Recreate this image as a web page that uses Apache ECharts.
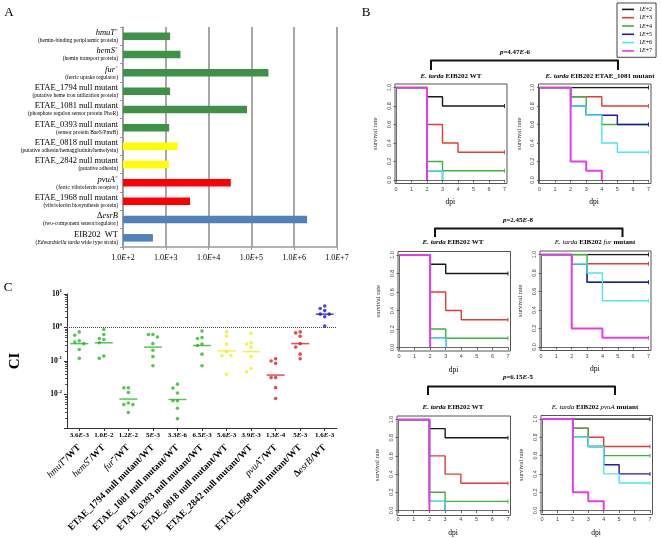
<!DOCTYPE html>
<html>
<head>
<meta charset="utf-8">
<script src="https://cdn.jsdelivr.net/npm/echarts@6/dist/echarts.min.js"></script>
<style>
html, body { margin: 0; padding: 0; background: #fff; }
#chart { width: 661px; height: 538px; }
</style>
</head>
<body>
<div id="chart"></div>
<script>
// ---- panel A: LD50 of each strain (log scale) ----
const strainNames = ['*hmuT*⁻', '*hemS*⁻', '*fur*⁻', 'ETAE_1794 null mutant', 'ETAE_1081 null mutant',
  'ETAE_0393 null mutant', 'ETAE_0818 null mutant', 'ETAE_2842 null mutant', '*pvuA*⁻',
  'ETAE_1968 null mutant', 'Δ*esrB*', 'EIB202  WT'];
const strainNotes = ['(hemin-binding periplasmic protein)', '(hemin transport protein)', '(ferric uptake regulator)',
  '(putative heme iron utilization protein)', '(phosphate regulon sensor protein PhoR)', '(sensor protein BaeS/PmrB)',
  '(putative adhesin/hemagglutinin/hemolysin)', '(putative adhesin)', '(ferric vibrioferrin receptor)',
  '(vibrioferrin biosynthesis protein)', '(two-component sensor/regulator)', '(*Edwardsiella tarda* wide type strain)'];
const ld50 = [1260, 2200, 250000, 1260, 79000, 1200, 1900, 1180, 33000, 3700, 2000000, 500];
const strainGroup = ['g', 'g', 'g', 'g', 'g', 'g', 'y', 'y', 'r', 'r', 'b', 'b'];

// ---- panel B: survival curves, one list per dose (1E+2 .. 1E+7), [dpi, survival] ----
const doseLabels = ['1E+2', '1E+3', '1E+4', '1E+5', '1E+6', '1E+7'];
const wtSurvival = [
  [[0, 1], [2, 0.9], [3, 0.8], [7, 0.8]],
  [[0, 1], [2, 0.6], [3, 0.4], [4, 0.3], [7, 0.3]],
  [[0, 1], [2, 0.2], [3, 0.1], [7, 0.1]],
  [[0, 1], [2, 0.1], [3, 0]],
  [[0, 1], [2, 0.1], [3, 0]],
  [[0, 1], [2, 0]]
];
const etae1081Survival = [
  [[0, 1], [7, 1]],
  [[0, 1], [2, 0.9], [4, 0.8], [7, 0.8]],
  [[0, 1], [2, 0.9], [3, 0.7], [4, 0.6], [7, 0.6]],
  [[0, 1], [2, 0.8], [3, 0.7], [5, 0.6], [7, 0.6]],
  [[0, 1], [2, 0.8], [3, 0.7], [4, 0.4], [5, 0.3], [7, 0.3]],
  [[0, 1], [2, 0.2], [3, 0.1], [4, 0]]
];
const furSurvival = [
  [[0, 1], [7, 1]],
  [[0, 1], [2, 0.9], [7, 0.9]],
  [[0, 1], [3, 0.7], [7, 0.7]],
  [[0, 1], [2, 0.9], [3, 0.7], [7, 0.7]],
  [[0, 1], [2, 0.9], [3, 0.8], [4, 0.5], [7, 0.5]],
  [[0, 1], [2, 0.2], [4, 0.1], [7, 0.1]]
];
const pvuASurvival = [
  [[0, 1], [7, 1]],
  [[0, 1], [2, 0.9], [3, 0.8], [4, 0.7], [7, 0.7]],
  [[0, 1], [2, 0.9], [3, 0.7], [4, 0.6], [7, 0.6]],
  [[0, 1], [2, 0.8], [3, 0.7], [4, 0.5], [5, 0.4], [7, 0.4]],
  [[0, 1], [2, 0.8], [3, 0.7], [4, 0.4], [5, 0.3], [7, 0.3]],
  [[0, 1], [2, 0.2], [3, 0.1], [4, 0]]
];
const pValues = ['4.47*E*-6', '2.45*E*-8', '6.15*E*-5'];

// ---- panel C: competitive index ----
const ciLabels = ['*hmuT*⁻/WT', '*hemS*⁻/WT', '*fur*⁻/WT', 'ETAE_1794 null mutant/WT', 'ETAE_1081 null mutant/WT',
  'ETAE_0393 null mutant/WT', 'ETAE_0818 null mutant/WT', 'ETAE_2842 null mutant/WT', '*pvuA*⁻/WT',
  'ETAE_1968 null mutant/WT', 'Δ*esrB*/WT'];
const ciPLabels = ['3.6*E*-3', '1.0*E*-2', '1.2*E*-2', '5*E*-3', '3.3*E*-6', '6.5*E*-3', '5.6*E*-3', '3.9*E*-3',
  '1.3*E*-4', '5*E*-3', '1.6*E*-3'];
const ciGroup = ['g', 'g', 'g', 'g', 'g', 'g', 'y', 'y', 'r', 'r', 'b'];
const ciPoints = [
  [0.74, 0.59, 0.40, 0.37, 0.33, 0.22, 0.12],
  [0.87, 0.62, 0.47, 0.44, 0.35, 0.14, 0.12],
  [0.0158, 0.0158, 0.0115, 0.0056, 0.0050, 0.0050, 0.0029],
  [0.62, 0.62, 0.52, 0.33, 0.21, 0.135, 0.072],
  [0.0204, 0.0155, 0.011, 0.0065, 0.0065, 0.0039, 0.0019],
  [0.78, 0.50, 0.47, 0.32, 0.29, 0.16, 0.072],
  [0.74, 0.55, 0.32, 0.19, 0.145, 0.145, 0.040],
  [0.66, 0.35, 0.32, 0.26, 0.135, 0.060, 0.048],
  [0.117, 0.100, 0.085, 0.032, 0.032, 0.016, 0.0076],
  [0.74, 0.69, 0.55, 0.33, 0.26, 0.16, 0.117],
  [4.4, 3.7, 3.2, 2.5, 2.5, 2.1, 1.1]
];
const ciMeans = [0.33, 0.35, 0.0073, 0.26, 0.0071, 0.29, 0.20, 0.19, 0.038, 0.33, 2.5];

const SERIF = 'Liberation Serif';
const SANS = 'Liberation Sans';
const barColors = { g: '#3f9147', y: '#ffff00', r: '#ff0000', b: '#4f81bd' };
const dotColors = { g: '#2fb52f', y: '#f0f020', r: '#dd2222', b: '#1a1ad8' };
const doseColors = ['#1a1a1a', '#e23b3b', '#3cb43c', '#1c1ca8', '#4ee8e8', '#e63ce6'];

// '*text*' marks italic runs
function rich(str, base) {
  return str.split('*').map((part, i) => part ? '{' + base + (i % 2 ? 'I' : '') + '|' + part + '}' : '').join('');
}
function txt(size, extra) {
  return Object.assign({ fontFamily: SERIF, fontSize: size, color: '#000' }, extra || {});
}

// survival plot boxes: [left, top, width, height] of the data area
const survivalBoxes = [
  [396, 87.5, 108.5, 92.5], [539.5, 87.5, 109, 92.5],
  [399, 255, 109, 92.5], [541, 254.5, 107.5, 92.5],
  [398, 419.5, 110, 92.5], [542, 419, 108, 92]
];
const survivalSets = [wtSurvival, etae1081Survival, wtSurvival, furSurvival, wtSurvival, pvuASurvival];

const grids = [
  { left: 123, top: 27, width: 214, height: 220 },
  { left: 67, top: 294, width: 270, height: 134 },
  { left: 67, top: 294, width: 270, height: 134 }
];
const xAxes = [
  {
    type: 'log', gridIndex: 0, min: 100, max: 1e7, logBase: 10,
    axisLine: { show: true, lineStyle: { color: '#999', width: 1.5 } },
    axisTick: { show: true, length: 3, lineStyle: { color: '#999' } },
    splitLine: { show: true, lineStyle: { color: '#8a8a8a', width: 1.5 } },
    axisLabel: {
      margin: 7,
      formatter: (v) => rich('1.0*E*+' + Math.round(Math.log10(v)), 'a'),
      rich: { a: txt(8), aI: txt(8, { fontStyle: 'italic' }) }
    }
  },
  {
    type: 'category', gridIndex: 1, data: ciLabels,
    axisLine: { lineStyle: { color: '#333', width: 1 } },
    axisTick: { show: true, alignWithLabel: true, length: 3, lineStyle: { color: '#333' } },
    axisLabel: {
      margin: 4, interval: 0,
      formatter: (v, i) => rich(ciPLabels[i], 'p'),
      rich: { p: txt(7, { fontWeight: 'bold' }), pI: txt(7, { fontWeight: 'bold', fontStyle: 'italic' }) }
    }
  },
  {
    type: 'category', gridIndex: 2, data: ciLabels,
    axisLine: { show: false }, axisTick: { show: false },
    axisLabel: {
      margin: 18, rotate: 45, interval: 0,
      formatter: (v) => rich(v, 'n'),
      rich: { n: txt(9.5, { fontWeight: 'bold' }), nI: txt(9.5, { fontStyle: 'italic' }) }
    }
  }
];
const yAxes = [
  {
    type: 'category', gridIndex: 0, data: strainNames, inverse: true,
    axisLine: { lineStyle: { color: '#999', width: 1.5 } },
    axisTick: { show: true, length: 3, lineStyle: { color: '#999' } },
    axisLabel: {
      margin: 5, interval: 0, align: 'right',
      formatter: (v, i) => rich(v, 'm') + '\n' + rich(strainNotes[i], 's'),
      rich: {
        m: txt(8.5, { lineHeight: 9, align: 'right' }), mI: txt(8.5, { fontStyle: 'italic', lineHeight: 9, align: 'right' }),
        s: txt(5.5, { lineHeight: 7, align: 'right' }), sI: txt(5.5, { fontStyle: 'italic', lineHeight: 7, align: 'right' })
      }
    }
  },
  {
    type: 'log', gridIndex: 1, min: 0.001, max: 10, logBase: 10,
    name: 'CI', nameLocation: 'middle', nameGap: 44, nameRotate: 90,
    nameTextStyle: txt(15, { fontWeight: 'bold' }),
    axisLine: { show: true, lineStyle: { color: '#333', width: 1 } },
    axisTick: { show: true, length: 3, lineStyle: { color: '#333' } },
    minorTick: { show: true, splitNumber: 9, length: 2, lineStyle: { color: '#555' } },
    splitLine: { show: false },
    axisLabel: {
      margin: 5, showMinLabel: false,
      formatter: (v) => {
        const e = Math.round(Math.log10(v));
        return '{b|10}{s|' + (e < 0 ? '-' : '') + Math.abs(e) + '}';
      },
      rich: { b: txt(7.5, { fontWeight: 'bold' }), s: txt(5, { fontWeight: 'bold', padding: [0, 0, 6, 0] }) }
    }
  },
  { type: 'value', gridIndex: 2, show: false }
];

const series = [
  {
    type: 'bar', xAxisIndex: 0, yAxisIndex: 0, barWidth: 7.5, clip: true, silent: true,
    data: ld50.map((v, i) => ({ value: v, itemStyle: { color: barColors[strainGroup[i]] } }))
  }
];

// beeswarm offsets (px) so dots at similar CI sit side by side
const decadePx = grids[1].height / 4;
const ciDots = [];
ciPoints.forEach((vals, g) => {
  const placed = [];
  vals.forEach((v) => {
    const ly = Math.log10(v) * decadePx;
    const tries = [0, -4.5, 4.5, -9, 9, -13.5, 13.5];
    let off = 0;
    for (const t of tries) {
      if (placed.every((p) => Math.hypot(p.x - t, p.y - ly) >= 4.2)) { off = t; break; }
    }
    placed.push({ x: off, y: ly });
    ciDots.push({ value: [g, v], symbolOffset: [off, 0], itemStyle: { color: dotColors[ciGroup[g]] } });
  });
});
series.push({
  type: 'scatter', xAxisIndex: 1, yAxisIndex: 1, symbolSize: 3.6, silent: true, data: ciDots
});
series.push({
  type: 'scatter', xAxisIndex: 1, yAxisIndex: 1, symbol: 'rect', symbolSize: [18, 1.5], silent: true,
  data: ciMeans.map((v, g) => ({ value: [g, v], itemStyle: { color: dotColors[ciGroup[g]] } })),
  markLine: {
    silent: true, symbol: 'none', label: { show: false },
    lineStyle: { type: 'dotted', color: '#444', width: 1 },
    data: [{ yAxis: 1 }]
  }
});

const graphics = [
  { type: 'text', x: 9, y: 13, style: { text: 'A', fontFamily: SERIF, fontSize: 13, align: 'center', verticalAlign: 'middle' } },
  { type: 'text', x: 366, y: 13, style: { text: 'B', fontFamily: SERIF, fontSize: 13, align: 'center', verticalAlign: 'middle' } },
  { type: 'text', x: 8, y: 288, style: { text: 'C', fontFamily: SERIF, fontSize: 13, align: 'center', verticalAlign: 'middle' } }
];

survivalBoxes.forEach((box, p) => {
  const gi = 3 + p;
  const [left, top, width, height] = box;
  grids.push({ left, top, width, height });
  xAxes.push({
    type: 'value', gridIndex: gi, min: 0, max: 7, interval: 1, offset: 3.5,
    name: 'dpi', nameLocation: 'middle', nameGap: 15, nameTextStyle: txt(7.5),
    axisLine: { show: true, lineStyle: { color: '#444', width: 0.8 } },
    axisTick: { show: true, length: 2.5, lineStyle: { color: '#444', width: 0.8 } },
    splitLine: { show: false },
    axisLabel: { margin: 2.5, fontFamily: SANS, fontSize: 5.5, color: '#444' }
  });
  yAxes.push({
    type: 'value', gridIndex: gi, min: 0, max: 1, interval: 0.2, offset: 1,
    name: 'survival rate', nameLocation: 'middle', nameGap: 16, nameRotate: 90, nameTextStyle: txt(6.5, { color: '#333' }),
    axisLine: { show: true, lineStyle: { color: '#444', width: 0.8 } },
    axisTick: { show: true, length: 2.5, lineStyle: { color: '#444', width: 0.8 } },
    splitLine: { show: false },
    axisLabel: { margin: 3, rotate: 90, fontFamily: SANS, fontSize: 5.5, color: '#444', formatter: (v) => v.toFixed(1) }
  });
  graphics.push({
    type: 'rect', silent: true, z: 1,
    shape: { x: left - 1, y: top - 3.5, width: width + 3.5, height: height + 7 },
    style: { fill: 'none', stroke: '#555', lineWidth: 1 }
  });
  survivalSets[p].forEach((curve, d) => {
    series.push({
      type: 'line', name: doseLabels[d], xAxisIndex: gi, yAxisIndex: gi, step: 'end',
      symbol: 'none', showSymbol: true, silent: true, z: 3 + d,
      lineStyle: { color: doseColors[d], width: d === 5 ? 2 : 1.4 },
      itemStyle: { color: doseColors[d] },
      data: curve.map((pt, k) => (k === curve.length - 1 && pt[0] === 7)
        ? { value: pt, symbol: 'rect', symbolSize: [0.9, 4] } : pt)
    });
  });
});

// titles, p values and brackets over each pair of survival plots
const pairTitles = [
  ['*E. tarda* EIB202 WT', '*E. tarda* EIB202 ETAE_1081 mutant'],
  ['*E. tarda* EIB202 WT', '*E. tarda* EIB202 *fur* mutant'],
  ['*E. tarda* EIB202 WT', '*E. tarda* EIB202 *pvuA* mutant']
];
const pairLayout = [
  { p: [515, 52], br: [431, 618, 60.5, 70], t: [[451, 76], [600, 76]] },
  { p: [518, 220], br: [435, 622.5, 228.5, 237], t: [[453, 242], [595, 242]] },
  { p: [518, 377], br: [428, 615, 386.5, 395], t: [[453, 407], [595, 407]] }
];
const titleRich = {
  t: { fontFamily: SERIF, fontSize: 7, fontWeight: 'bold' },
  tI: { fontFamily: SERIF, fontSize: 7, fontWeight: 'bold', fontStyle: 'italic' }
};
const titleRichPlain = {
  t: { fontFamily: SERIF, fontSize: 7, fontWeight: 'bold' },
  tI: { fontFamily: SERIF, fontSize: 7, fontStyle: 'italic' }
};
pairLayout.forEach((lay, r) => {
  graphics.push({
    type: 'text', x: lay.p[0], y: lay.p[1],
    style: { text: rich('*p*=' + pValues[r], 't'), rich: titleRich, align: 'center', verticalAlign: 'middle' }
  });
  const [x1, x2, yt, yb] = lay.br;
  graphics.push({
    type: 'polyline', silent: true,
    shape: { points: [[x1, yb], [x1, yt], [x2, yt], [x2, yb]] },
    style: { stroke: '#111', lineWidth: 2, fill: 'none', lineJoin: 'round' }
  });
  pairTitles[r].forEach((tt, c) => {
    graphics.push({
      type: 'text', x: lay.t[c][0], y: lay.t[c][1],
      style: {
        text: rich(tt, 't'), rich: (c === 1 && r > 0) ? titleRichPlain : titleRich,
        align: 'center', verticalAlign: 'middle'
      }
    });
  });
});

const chart = echarts.init(document.getElementById('chart'));
chart.setOption({
  animation: false,
  backgroundColor: '#fff',
  textStyle: { fontFamily: SERIF },
  grid: grids,
  xAxis: xAxes,
  yAxis: yAxes,
  legend: {
    data: doseLabels, selectedMode: false, orient: 'vertical', left: 617, top: 3,
    borderColor: '#444', borderWidth: 1, padding: [3, 4, 3, 5], itemGap: 1.5,
    itemWidth: 12, itemHeight: 1.6, icon: 'rect',
    formatter: (n) => rich(n.replace('E', '*E*'), 'l'),
    textStyle: {
      fontSize: 6, lineHeight: 6.8,
      rich: { l: txt(6, { lineHeight: 6.8 }), lI: txt(6, { fontStyle: 'italic', lineHeight: 6.8 }) }
    }
  },
  graphic: graphics,
  series: series
});
window.addEventListener('resize', () => chart.resize());
</script>
</body>
</html>
